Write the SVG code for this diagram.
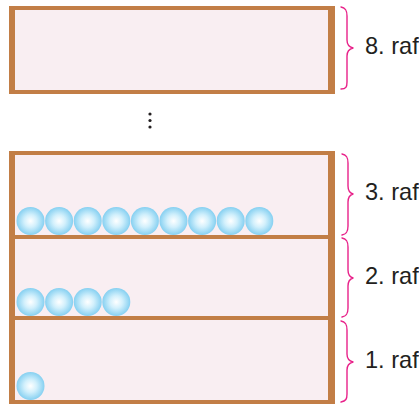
<svg xmlns="http://www.w3.org/2000/svg" width="419" height="404" viewBox="0 0 419 404">
<defs>
<radialGradient id="ball" cx="50%" cy="50%" r="50%">
<stop offset="0" stop-color="#FFFFFF"/>
<stop offset="0.45" stop-color="#D2F0FC"/>
<stop offset="1" stop-color="#86D0F1"/>
</radialGradient>
<style>
.fill{fill:#F9EEF2}
.wood{fill:#C27E46}
.brace{fill:none;stroke:#E8228A;stroke-width:1.4;stroke-linecap:round;stroke-linejoin:round}
.lbl{font-family:"Liberation Sans",Arial,sans-serif;font-size:23.6px;fill:#231F20}
.b{fill:url(#ball)}
</style>
</defs>
<g id="shelf8">
<rect class="fill" x="9" y="6" width="326" height="88"/>
<rect class="wood" x="9" y="6" width="326" height="4"/>
<rect class="wood" x="9" y="90" width="326" height="4"/>
<rect class="wood" x="9" y="6" width="6" height="88"/>
<rect class="wood" x="328" y="6" width="7" height="88"/>
</g>
<g id="dots" fill="#231F20">
<circle cx="150" cy="114" r="1.6"/>
<circle cx="150" cy="120.5" r="1.6"/>
<circle cx="150" cy="127" r="1.6"/>
</g>
<g id="cabinet">
<rect class="fill" x="9" y="151" width="326" height="253"/>
<rect class="wood" x="9" y="151" width="326" height="4"/>
<rect class="wood" x="9" y="235" width="326" height="4"/>
<rect class="wood" x="9" y="316" width="326" height="4"/>
<rect class="wood" x="9" y="400" width="326" height="4"/>
<rect class="wood" x="9" y="151" width="6" height="253"/>
<rect class="wood" x="328" y="151" width="7" height="253"/>
</g>
<g id="balls3">
<circle class="b" cx="30.5" cy="221" r="14"/>
<circle class="b" cx="59.1" cy="221" r="14"/>
<circle class="b" cx="87.7" cy="221" r="14"/>
<circle class="b" cx="116.3" cy="221" r="14"/>
<circle class="b" cx="144.9" cy="221" r="14"/>
<circle class="b" cx="173.5" cy="221" r="14"/>
<circle class="b" cx="202.1" cy="221" r="14"/>
<circle class="b" cx="230.7" cy="221" r="14"/>
<circle class="b" cx="259.3" cy="221" r="14"/>
</g>
<g id="balls2">
<circle class="b" cx="30.5" cy="302" r="14"/>
<circle class="b" cx="59.1" cy="302" r="14"/>
<circle class="b" cx="87.7" cy="302" r="14"/>
<circle class="b" cx="116.3" cy="302" r="14"/>
</g>
<g id="balls1">
<circle class="b" cx="30.5" cy="386" r="14"/>
</g>
<g id="braces">
<path class="brace" d="M341,7 C346,8 347,11 347,16 L347,40 C347,45 349,47 353,48 C349,49 347,51 347,56 L347,82 C347,87 346,89 341,89"/>
<path class="brace" d="M342,154 C347,155 348,158 348,163 L348,186 C348,191 350,193 353,194 C350,195 348,197 348,202 L348,226 C348,231 347,234 342,235"/>
<path class="brace" d="M342,238 C347,239 348,242 348,247 L348,270 C348,275 350,277 353,278 C350,279 348,281 348,286 L348,308 C348,313 347,316 342,317"/>
<path class="brace" d="M341,321 C346,322 347,325 347,330 L347,354 C347,359 349,361 353,362 C349,363 347,365 347,370 L347,394 C347,399 346,401 341,402"/>
</g>
<g id="labels">
<text class="lbl" x="365" y="54">8. raf</text>
<text class="lbl" x="365" y="200">3. raf</text>
<text class="lbl" x="365" y="284">2. raf</text>
<text class="lbl" x="365" y="368">1. raf</text>
</g>
</svg>
